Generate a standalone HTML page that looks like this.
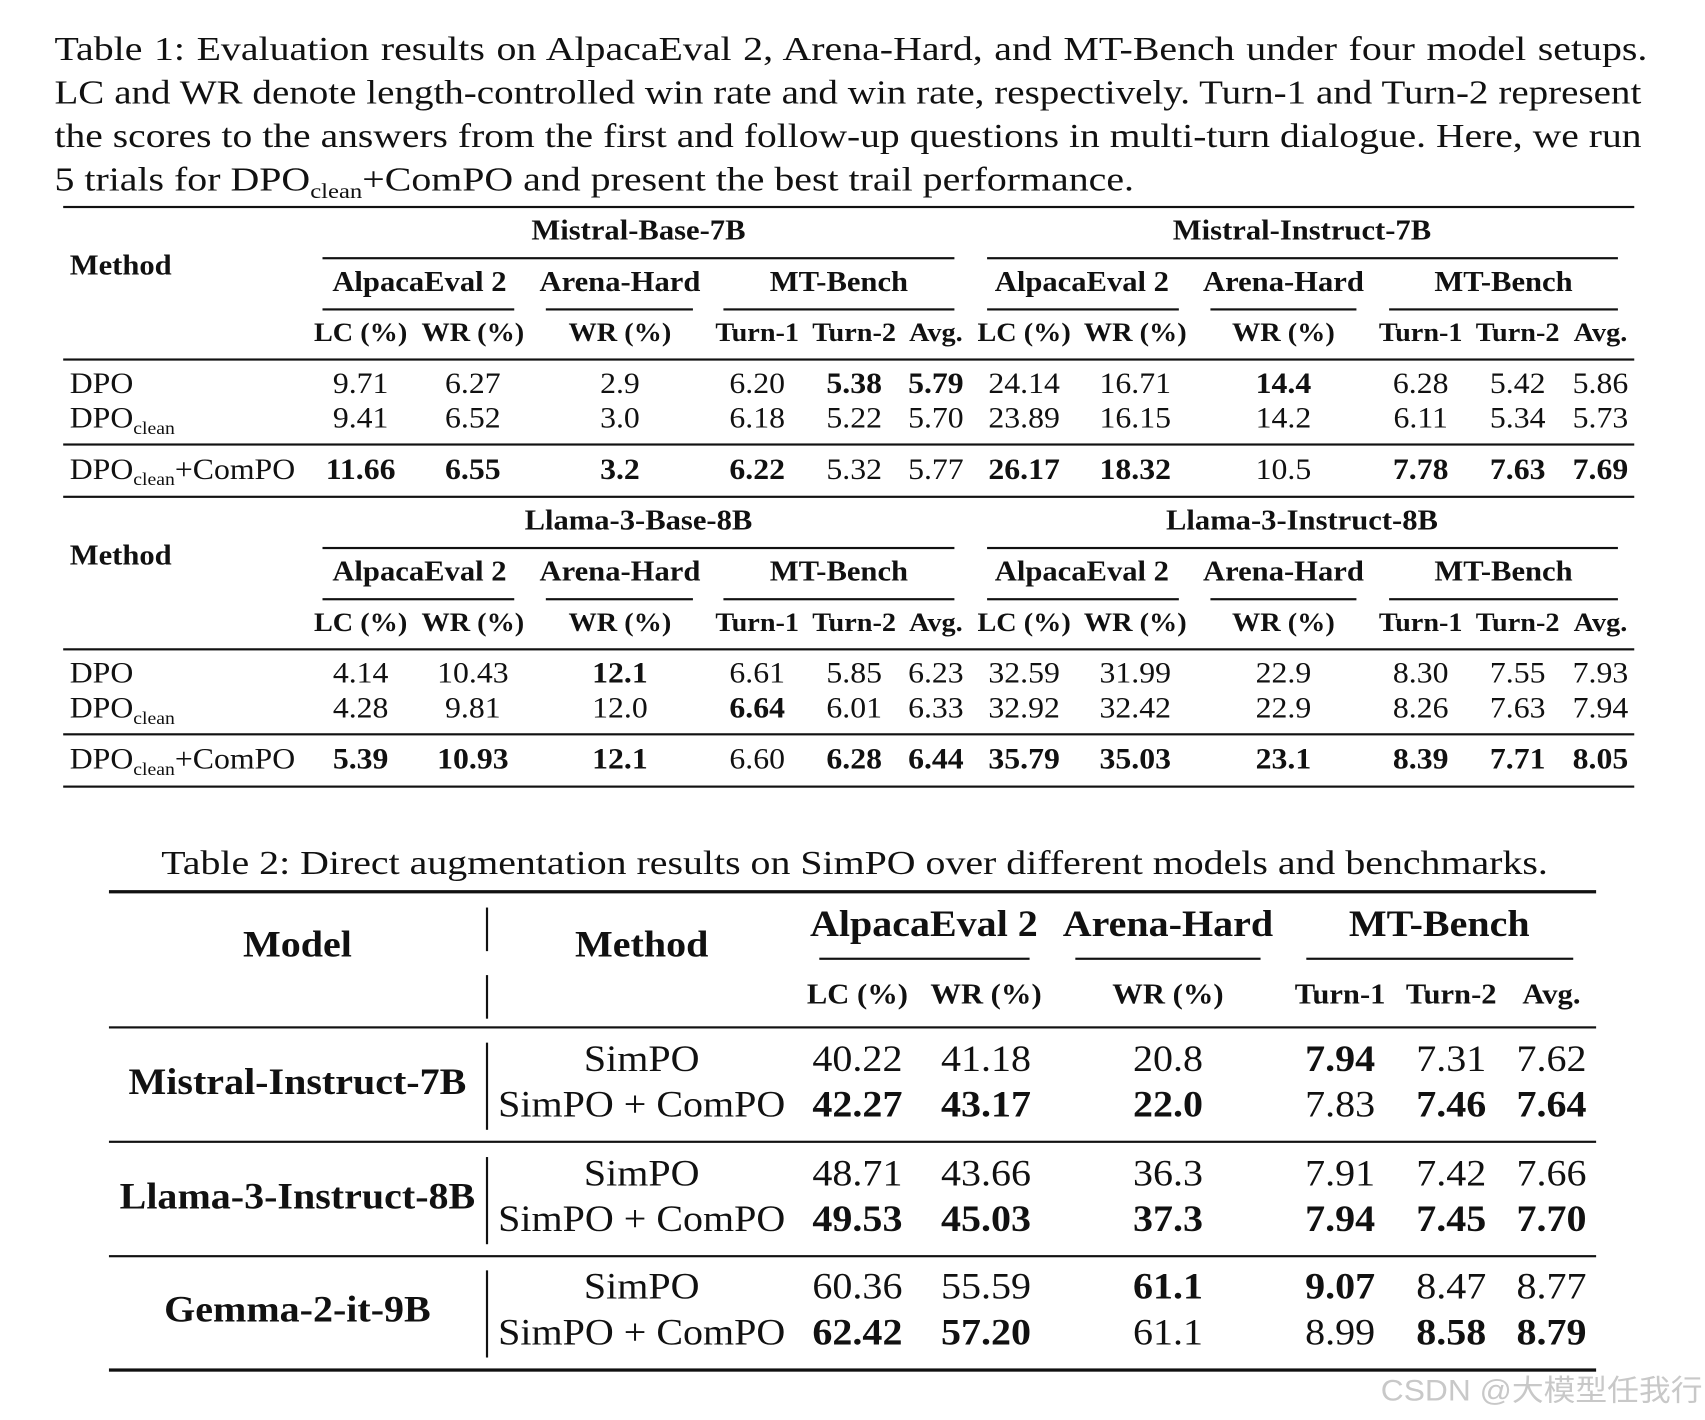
<!DOCTYPE html>
<html><head><meta charset="utf-8">
<style>
html,body{margin:0;padding:0;background:#fff;}
body{width:1705px;height:1419px;overflow:hidden;position:relative;}
#page{position:absolute;left:0;top:0;width:1565px;height:1303px;transform:scale(1.0895);transform-origin:0 0;font-family:"Liberation Serif",serif;color:#111;}
.t{position:absolute;white-space:nowrap;transform:translate(-50%,-50%) scaleX(1.08);line-height:1;}
.l{transform:translate(0,-50%) scaleX(1.08);transform-origin:0 50%;}
.b{font-weight:bold;}
.rule{position:absolute;background:#111;}
.cap{position:absolute;left:50px;width:1239px;font-size:31px;line-height:1;white-space:nowrap;text-align:justify;text-align-last:justify;transform:scaleX(1.18);transform-origin:0 0;}
sub{font-size:62%;vertical-align:-0.35em;line-height:0;}
</style></head><body>
<div id="page">
<div class="cap" style="top:29px">Table 1: Evaluation results on AlpacaEval 2, Arena-Hard, and MT-Bench under four model setups.</div>
<div class="cap" style="top:69px;transform:scaleX(1.155);width:1261px">LC and WR denote length-controlled win rate and win rate, respectively. Turn-1 and Turn-2 represent</div>
<div class="cap" style="top:109px;transform:scaleX(1.17);width:1245px">the scores to the answers from the first and follow-up questions in multi-turn dialogue. Here, we run</div>
<div class="cap" style="top:149px;text-align-last:left;width:auto">5 trials for DPO<sub>clean</sub>+ComPO and present the best trail performance.</div>
<div class="cap" style="top:776px;left:148px;width:auto;text-align-last:left">Table 2: Direct augmentation results on SimPO over different models and benchmarks.</div>
<div class="t" style="left:1415px;top:1277px;font-family:'Liberation Sans','Noto Sans CJK SC',sans-serif;font-size:27px;color:#c8c8c8">CSDN @大模型任我行</div>
</div>
<script>
const page=document.getElementById('page');
function T(x,y,html,size,bold,name,left){
  const d=document.createElement('div');
  d.className='t'+(bold?' b':'')+(left?' l':'');
  d.style.left=x+'px';d.style.top=y+'px';d.style.fontSize=size+'px';
  d.innerHTML=html;
  
  
  page.appendChild(d);
}
function R(x1,x2,y,h,name){
  const d=document.createElement('div');
  d.className='rule';
  d.style.left=x1+'px';d.style.width=(x2-x1)+'px';d.style.top=(y-h/2)+'px';d.style.height=h+'px';
  
  
  page.appendChild(d);
}
function V(x,y1,y2,name){
  const d=document.createElement('div');
  d.className='rule';
  d.style.left=(x-0.75)+'px';d.style.width='1.5px';d.style.top=y1+'px';d.style.height=(y2-y1)+'px';
  
  
  page.appendChild(d);
}
// ---- Table 1 data ----
const t1Cols=[331,434,569,695,784,859,940,1042,1178,1304,1393,1469];
const t1Heads=['LC (%)','WR (%)','WR (%)','Turn-1','Turn-2','Avg.','LC (%)','WR (%)','WR (%)','Turn-1','Turn-2','Avg.'];
const t1Methods=['DPO','DPO<sub>clean</sub>','DPO<sub>clean</sub>+ComPO'];
const t1BlockModels=[['Mistral-Base-7B','Mistral-Instruct-7B'],['Llama-3-Base-8B','Llama-3-Instruct-8B']];
const t1Values=[
 [['9.71','6.27','2.9','6.20','*5.38','*5.79','24.14','16.71','*14.4','6.28','5.42','5.86'],
  ['9.41','6.52','3.0','6.18','5.22','5.70','23.89','16.15','14.2','6.11','5.34','5.73'],
  ['*11.66','*6.55','*3.2','*6.22','5.32','5.77','*26.17','*18.32','10.5','*7.78','*7.63','*7.69']],
 [['4.14','10.43','*12.1','6.61','5.85','6.23','32.59','31.99','22.9','8.30','7.55','7.93'],
  ['4.28','9.81','12.0','*6.64','6.01','6.33','32.92','32.42','22.9','8.26','7.63','7.94'],
  ['*5.39','*10.93','*12.1','6.60','*6.28','*6.44','*35.79','*35.03','*23.1','*8.39','*7.71','*8.05']]
];
const benches=['AlpacaEval 2','Arena-Hard','MT-Bench'];
const benchX=[[385,569,770],[993,1178,1380]];
const cmidA=[[296,472],[501,636],[664,876],[906,1082],[1111,1245],[1275,1485]];
R(58,1500,190,2.5,'table1-top-rule');
[0,266].forEach((o,b)=>{
  T(586,212+o,t1BlockModels[b][0],26,true,'model-header');
  T(1195,212+o,t1BlockModels[b][1],26,true,'model-header');
  T(64,244+o,'Method',26,true,'method-header',true);
  R(296,876,237+o,1.3,'cmidrule');R(906,1485,237+o,1.3,'cmidrule');
  benchX.forEach(xs=>xs.forEach((x,i)=>T(x,259+o,benches[i],26,true,'benchmark-header')));
  cmidA.forEach(c=>R(c[0],c[1],284+o,1.3,'cmidrule'));
  t1Cols.forEach((x,i)=>T(x,306+o,t1Heads[i],24,true,'column-header'));
  R(58,1500,330+o,1.5,'midrule');
  const ys=[352,384,431];
  t1Values[b].forEach((row,r)=>{
    T(64,ys[r]+o,t1Methods[r],27,false,'method-label',true);
    row.forEach((v,i)=>{const bd=v[0]=='*';T(t1Cols[i],ys[r]+o,bd?v.slice(1):v,27,bd,'cell-value');});
  });
  R(58,1500,408+o,1.5,'rule');
  R(58,1500,456+o,2.5,'block-bottom-rule');
});
// ---- Table 2 data ----
const t2Cols=[787,905,1072,1230,1332,1424];
const t2Heads=['LC (%)','WR (%)','WR (%)','Turn-1','Turn-2','Avg.'];
const t2Models=['Mistral-Instruct-7B','Llama-3-Instruct-8B','Gemma-2-it-9B'];
const t2Methods=['SimPO','SimPO + ComPO'];
const t2Values=[
 [['40.22','41.18','20.8','*7.94','7.31','7.62'],['*42.27','*43.17','*22.0','7.83','*7.46','*7.64']],
 [['48.71','43.66','36.3','7.91','7.42','7.66'],['*49.53','*45.03','*37.3','*7.94','*7.45','*7.70']],
 [['60.36','55.59','*61.1','*9.07','8.47','8.77'],['*62.42','*57.20','61.1','8.99','*8.58','*8.79']]
];
R(100,1465,818,3,'table2-top-rule');
T(273,868,'Model',34,true,'model-header');
T(589,868,'Method',34,true,'method-header');
V(447,833,873,'vertical-divider');V(447,895,935,'vertical-divider');
[848,1072,1321].forEach((x,i)=>T(x,849,benches[i],34,true,'benchmark-header'));
[[752,945],[987,1157],[1199,1444]].forEach(c=>R(c[0],c[1],880,1.3,'cmidrule'));
t2Cols.forEach((x,i)=>T(x,913,t2Heads[i],26,true,'column-header'));
R(100,1465,943,2,'midrule');
t2Models.forEach((m,k)=>{
  const o=k*104.5;
  T(273,994+o,m,34,true,'model-label');
  V(447,957+o,1037+o,'vertical-divider');
  t2Methods.forEach((me,r)=>{
    const y=973+o+r*42;
    T(589,y,me,34,false,'method-label');
    t2Values[k][r].forEach((v,i)=>{const bd=v[0]=='*';T(t2Cols[i],y,bd?v.slice(1):v,34,bd,'cell-value');});
  });
  R(100,1465,k<2?1048+o:1257,k<2?2:3,k<2?'group-rule':'table2-bottom-rule');
});
</script>
</body></html>
